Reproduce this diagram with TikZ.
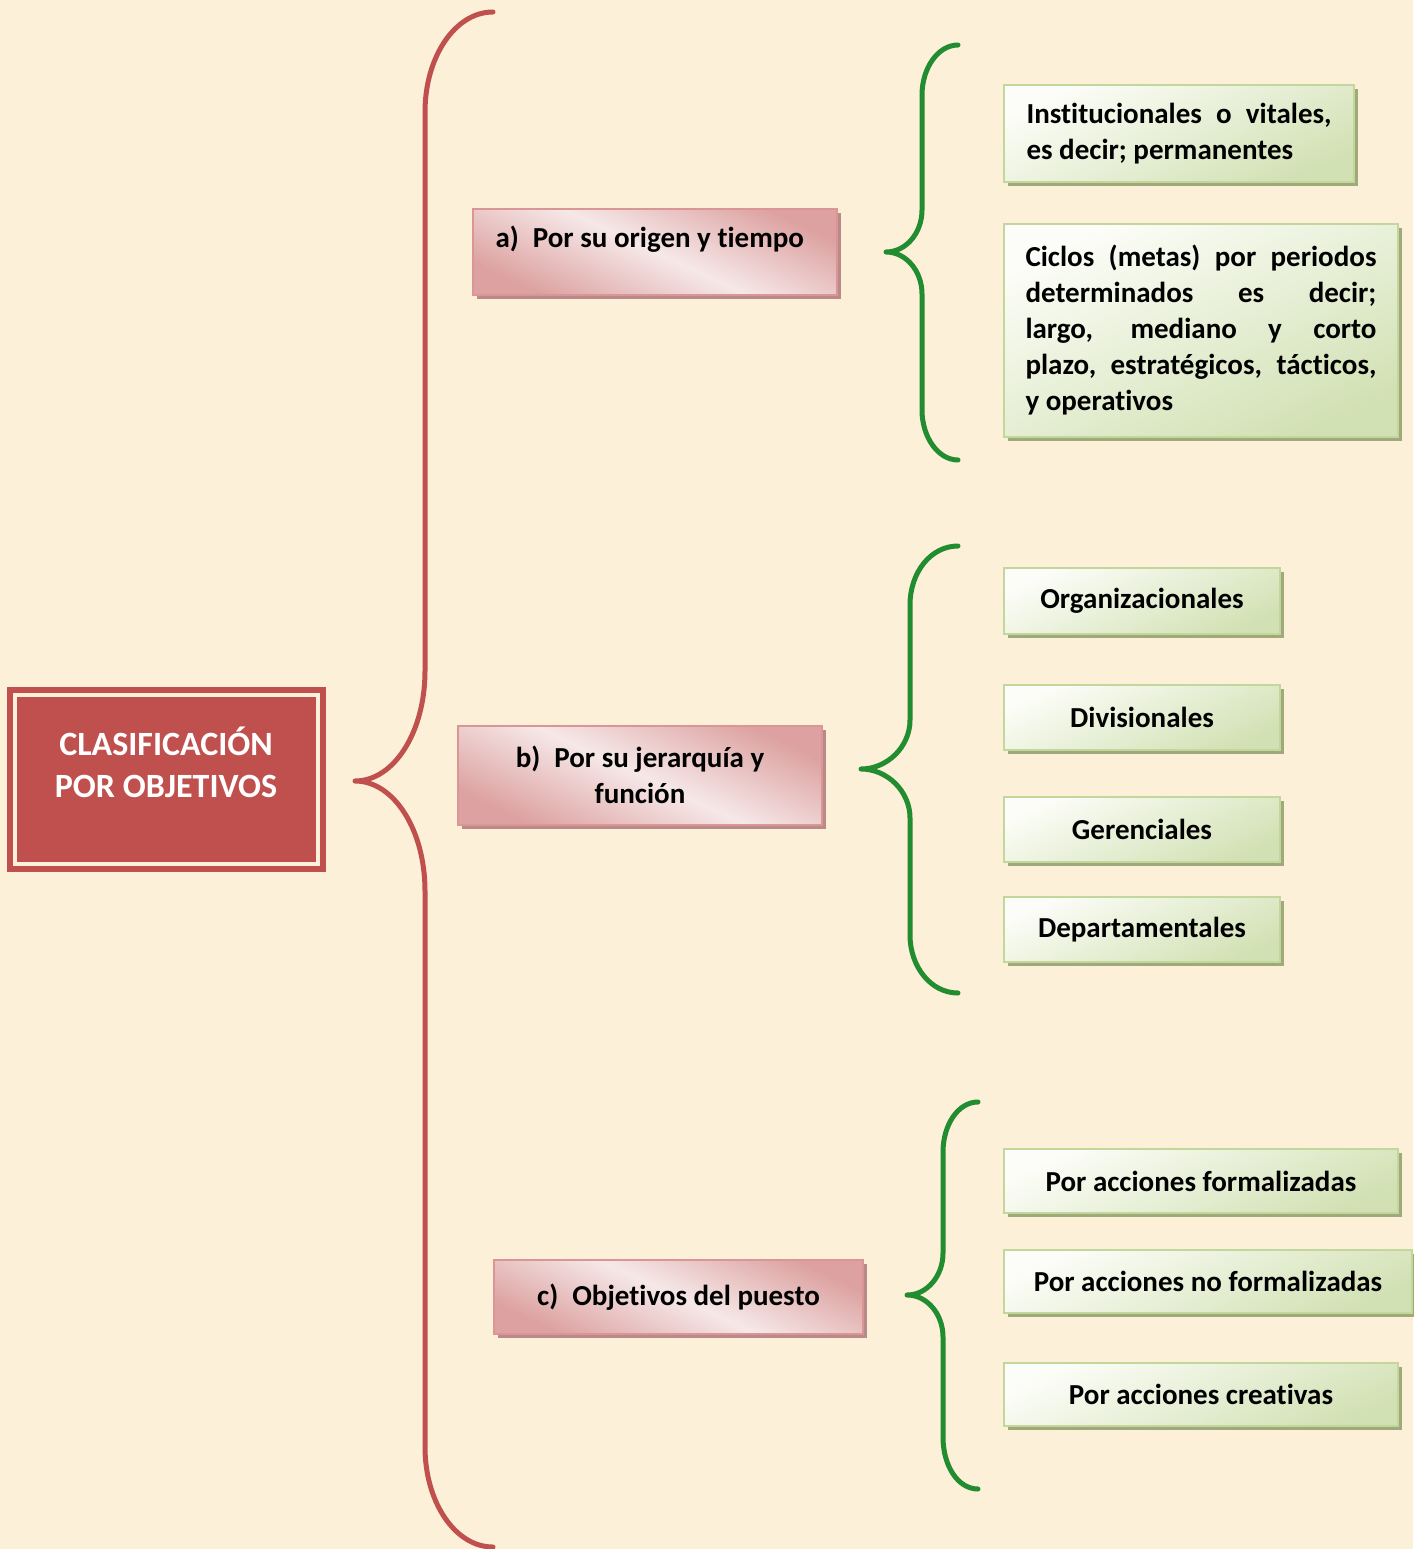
\documentclass[tikz,border=0pt]{standalone}
\usepackage{fontspec}
\setmainfont{Carlito}[Ligatures={NoCommon,NoContextual,NoRequired}]
\usetikzlibrary{shadows}

\definecolor{bg}{HTML}{FCF0D8}
\definecolor{redmain}{HTML}{C0504D}
\definecolor{creamline}{HTML}{FDF1DC}
\definecolor{pinkedge}{HTML}{D99694}
\definecolor{pinkdark}{HTML}{DCA1A0}
\definecolor{pinklight}{HTML}{F6E8E8}
\definecolor{pinkshadow}{HTML}{B98A89}
\definecolor{greenedge}{HTML}{C3D69B}
\definecolor{greenlight}{HTML}{FCFDF8}
\definecolor{greendark}{HTML}{D2E1B4}
\definecolor{greenshadow}{HTML}{A0A97A}
\definecolor{bracegreen}{RGB}{34,140,48}

\tikzset{
  txt/.style={font=\fontsize{29}{36}\selectfont\bfseries, text=black},
  pinkbox/.style={rectangle, draw=pinkedge, line width=2pt,
    top color=pinkdark, bottom color=pinkdark, middle color=pinklight,
    shading angle=-25,
    drop shadow={shadow xshift=4pt, shadow yshift=-4pt, fill=pinkshadow, opacity=1},
    txt, align=center, inner sep=0pt},
  greenbox/.style={rectangle, draw=greenedge, line width=2pt,
    top color=greenlight, bottom color=greendark, shading angle=25,
    drop shadow={shadow xshift=4pt, shadow yshift=-4pt, fill=greenshadow, opacity=1},
    txt, align=left, inner sep=0pt},
  redbrace/.style={draw=redmain, line width=5pt, line cap=round, line join=round},
  greenbrace/.style={draw=bracegreen, line width=5pt, line cap=round, line join=round},
}

\begin{document}
\begin{tikzpicture}[x=1pt,y=-1pt]
  % page and background
  \useasboundingbox (0,0) rectangle (1413,1549);
  \fill[bg] (0,0) rectangle (1413,1549);

  % main title box
  \node[rectangle, fill=redmain, minimum width=319pt, minimum height=185pt, inner sep=0pt]
    (main) at (166.5,779.5) {};
  \draw[creamline, line width=4pt] (15,695) rectangle (318,864);
  \node[font=\fontsize{34}{42}\selectfont\bfseries, text=white, align=center]
    (maintext) at (166,762) {CLASIFICACIÓN\\POR OBJETIVOS};

  % large brace
  \coordinate (rtop) at (493,12);
  \coordinate (rtip) at (355,781);
  \coordinate (rbot) at (493,1547);
  \draw[redbrace] (rtop) .. controls (455,12) and (425,57) .. (425,112)
    -- (425,671) .. controls (425,732) and (394,781) .. (rtip)
    .. controls (394,781) and (425,830) .. (425,891)
    -- (425,1447) .. controls (425,1502) and (455,1547) .. (rbot);

  % second level boxes
  \node[pinkbox, minimum width=364pt, minimum height=86pt] (pa) at (655,252) {};
  \node[txt, anchor=west] (patext) at (492,239) {a)\hspace{14pt}Por su origen y tiempo};
  \node[pinkbox, minimum width=364pt, minimum height=99pt] (pb) at (640,775)
    {b)\hspace{14pt}Por su jerarquía y\\función};
  \node[pinkbox, minimum width=369pt, minimum height=74pt] (pc) at (678.5,1297)
    {c)\hspace{14pt}Objetivos del puesto};

  % green braces
  \coordinate (g1top) at (958,45);
  \coordinate (g1tip) at (886,252);
  \coordinate (g1bot) at (958,460);
  \draw[greenbrace] (g1top) .. controls (938,45) and (922,68) .. (922,95)
    -- (922,210) .. controls (922,233) and (906,252) .. (g1tip)
    .. controls (906,252) and (922,271) .. (922,294)
    -- (922,410) .. controls (922,437) and (938,460) .. (g1bot);

  \coordinate (g2top) at (958,546);
  \coordinate (g2tip) at (861,769);
  \coordinate (g2bot) at (958,993);
  \draw[greenbrace] (g2top) .. controls (931,546) and (910,572) .. (910,605)
    -- (910,720) .. controls (910,747) and (887,769) .. (g2tip)
    .. controls (887,769) and (910,791) .. (910,818)
    -- (910,935) .. controls (910,967) and (931,993) .. (g2bot);

  \coordinate (g3top) at (978,1102);
  \coordinate (g3tip) at (907,1295);
  \coordinate (g3bot) at (978,1489);
  \draw[greenbrace] (g3top) .. controls (958,1102) and (943,1125) .. (943,1152)
    -- (943,1253) .. controls (943,1276) and (927,1295) .. (g3tip)
    .. controls (927,1295) and (943,1314) .. (943,1337)
    -- (943,1437) .. controls (943,1466) and (958,1489) .. (g3bot);

  % third level boxes
  \node[greenbox, minimum width=350pt, minimum height=97pt] (g1a) at (1179,133.5)
    {\makebox[305pt][s]{Institucionales o vitales,}\\es decir; permanentes};
  \node[greenbox, minimum width=394pt, minimum height=213pt] (g1b) at (1201,330.5)
    {\makebox[351pt][s]{Ciclos (metas) por periodos}\\
     \makebox[351pt][s]{determinados es decir;}\\
     \makebox[351pt][s]{largo, mediano y corto}\\
     \makebox[351pt][s]{plazo, estratégicos, tácticos,}\\
     y operativos\rule[-6pt]{0pt}{1pt}};

  \node[greenbox, align=center, minimum width=276pt, minimum height=66pt] (g2a) at (1142,601) {Organizacionales};
  \node[greenbox, align=center, minimum width=276pt, minimum height=65pt] (g2b) at (1142,717.5) {Divisionales};
  \node[greenbox, align=center, minimum width=276pt, minimum height=65pt] (g2c) at (1142,829.5) {Gerenciales};
  \node[greenbox, align=center, minimum width=276pt, minimum height=65pt] (g2d) at (1142,929.5) {Departamentales};

  \node[greenbox, align=center, minimum width=394pt, minimum height=64pt] (g3a) at (1201,1181) {Por acciones formalizadas};
  \node[greenbox, align=center, minimum width=408pt, minimum height=63pt] (g3b) at (1208,1281.5) {Por acciones no formalizadas};
  \node[greenbox, align=center, minimum width=394pt, minimum height=63pt] (g3c) at (1201,1394.5) {Por acciones creativas};
\end{tikzpicture}
\end{document}
